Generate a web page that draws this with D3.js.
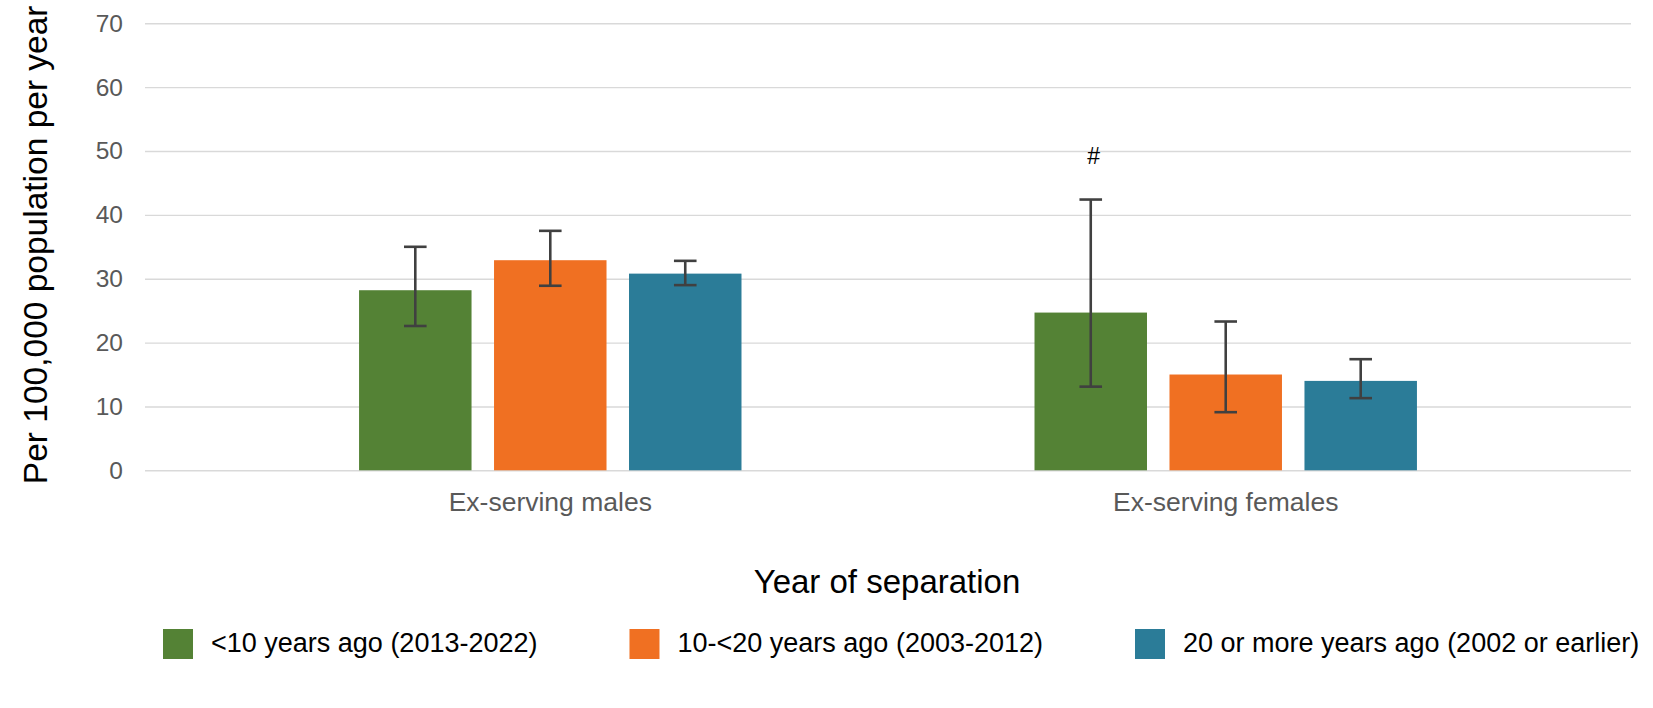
<!DOCTYPE html>
<html>
<head>
<meta charset="utf-8">
<script src="https://cdn.jsdelivr.net/npm/d3@7"></script>
<style>
  body { margin: 0; background: #fff; }
  svg { font-family: "Liberation Sans", Arial, sans-serif; display: block; }
</style>
</head>
<body>
<svg id="chart"></svg>
<script>
// Chart data
const categories = ["Ex-serving males", "Ex-serving females"];
const seriesNames = [
  "<10 years ago (2013-2022)",
  "10-<20 years ago (2003-2012)",
  "20 or more years ago (2002 or earlier)",
];
// one array per series, in category order
const rateValues = [
  [28.2, 24.7],
  [32.9, 15.0],
  [30.8, 14.0],
];
const lowerCI = [
  [22.6, 13.1],
  [28.9, 9.1],
  [29.0, 11.3],
];
const upperCI = [
  [35.0, 42.4],
  [37.5, 23.3],
  [32.8, 17.4],
];
const notes = [
  ["", "#"],
  ["", ""],
  ["", ""],
];
const yTicks = [0, 10, 20, 30, 40, 50, 60, 70];
const colors = ["#548235", "#f07022", "#2b7c98"];

// Chart configuration
const W = 1653, H = 708;
const margin = { top: 23.3, right: 22, bottom: 237.7, left: 145 };
const width = W - margin.left - margin.right;
const height = H - margin.top - margin.bottom;

const svg = d3.select("#chart").attr("width", W).attr("height", H);
const chartGroup = svg
  .append("g")
  .attr("transform", `translate(${margin.left},${margin.top})`);

const x0 = d3.scaleBand().domain(categories).range([0, width])
  .paddingInner(0.2).paddingOuter(0.2);
const x1 = d3.scaleBand().domain(seriesNames).range([0, x0.bandwidth()])
  .paddingInner(0.1667).paddingOuter(0.585);
const y = d3.scaleLinear().domain([0, 70]).range([height, 0]);

// gridlines + y tick labels
const yAxisGroup = chartGroup.append("g").attr("class", "y-axis")
  .call(d3.axisLeft(y).tickValues(yTicks).tickSize(-width).tickPadding(22));
yAxisGroup.select(".domain").remove();
yAxisGroup.selectAll(".tick line").attr("stroke", "#d9d9d9").attr("stroke-width", 1.4);
yAxisGroup.selectAll(".tick text").attr("fill", "#595959").attr("font-size", 24.5);

// category labels
const xAxisGroup = chartGroup.append("g").attr("class", "x-axis")
  .attr("transform", `translate(0,${height})`)
  .call(d3.axisBottom(x0).tickSize(0).tickPadding(21.6));
xAxisGroup.select(".domain").remove();
xAxisGroup.selectAll(".tick text").attr("fill", "#595959").attr("font-size", 26.5);

// flatten for bars
const barData = [];
seriesNames.forEach((s, si) => {
  categories.forEach((c, ci) => {
    barData.push({
      series: s, si, category: c,
      value: rateValues[si][ci],
      lo: lowerCI[si][ci],
      hi: upperCI[si][ci],
      note: notes[si][ci],
    });
  });
});
const cx = (d) => x0(d.category) + x1(d.series) + x1.bandwidth() / 2;

chartGroup.selectAll(".bar").data(barData).enter()
  .append("rect")
  .attr("class", "bar")
  .attr("x", (d) => x0(d.category) + x1(d.series))
  .attr("y", (d) => y(d.value))
  .attr("width", x1.bandwidth())
  .attr("height", (d) => height - y(d.value))
  .attr("fill", (d) => colors[d.si]);

// error bars
const errG = chartGroup.selectAll(".err").data(barData).enter()
  .append("g").attr("class", "err")
  .attr("stroke", "#404040").attr("stroke-width", 2.6);
errG.append("line")
  .attr("x1", cx).attr("x2", cx)
  .attr("y1", (d) => y(d.hi)).attr("y2", (d) => y(d.lo));
errG.append("line")
  .attr("x1", (d) => cx(d) - 11.3).attr("x2", (d) => cx(d) + 11.3)
  .attr("y1", (d) => y(d.hi)).attr("y2", (d) => y(d.hi));
errG.append("line")
  .attr("x1", (d) => cx(d) - 11.3).attr("x2", (d) => cx(d) + 11.3)
  .attr("y1", (d) => y(d.lo)).attr("y2", (d) => y(d.lo));

// "#" notes
chartGroup.selectAll(".note").data(barData.filter((d) => d.note)).enter()
  .append("text")
  .attr("class", "note")
  .attr("x", (d) => cx(d) + 3)
  .attr("y", (d) => y(d.hi) - 36)
  .attr("text-anchor", "middle")
  .attr("font-size", 23)
  .attr("fill", "#000")
  .text((d) => d.note);

// axis titles
svg.append("text")
  .attr("transform", `translate(46.5,${margin.top + height / 2 - 2}) rotate(-90)`)
  .attr("text-anchor", "middle")
  .attr("font-size", 33.5)
  .attr("fill", "#000")
  .text("Per 100,000 population per year");

svg.append("text")
  .attr("x", 887)
  .attr("y", 593)
  .attr("text-anchor", "middle")
  .attr("font-size", 33)
  .attr("fill", "#000")
  .text("Year of separation");

// legend
const legend = svg.append("g").attr("class", "legend")
  .attr("transform", "translate(163,0)");
let lx = 0;
seriesNames.forEach((s, i) => {
  const item = legend.append("g").attr("transform", `translate(${lx},0)`);
  item.append("rect")
    .attr("x", 0).attr("y", 629)
    .attr("width", 30).attr("height", 30)
    .attr("fill", colors[i]);
  const t = item.append("text")
    .attr("x", 48).attr("y", 652)
    .attr("font-size", 27)
    .attr("fill", "#000")
    .text(s);
  lx += 48 + t.node().getComputedTextLength() + 92;
});
</script>
</body>
</html>
